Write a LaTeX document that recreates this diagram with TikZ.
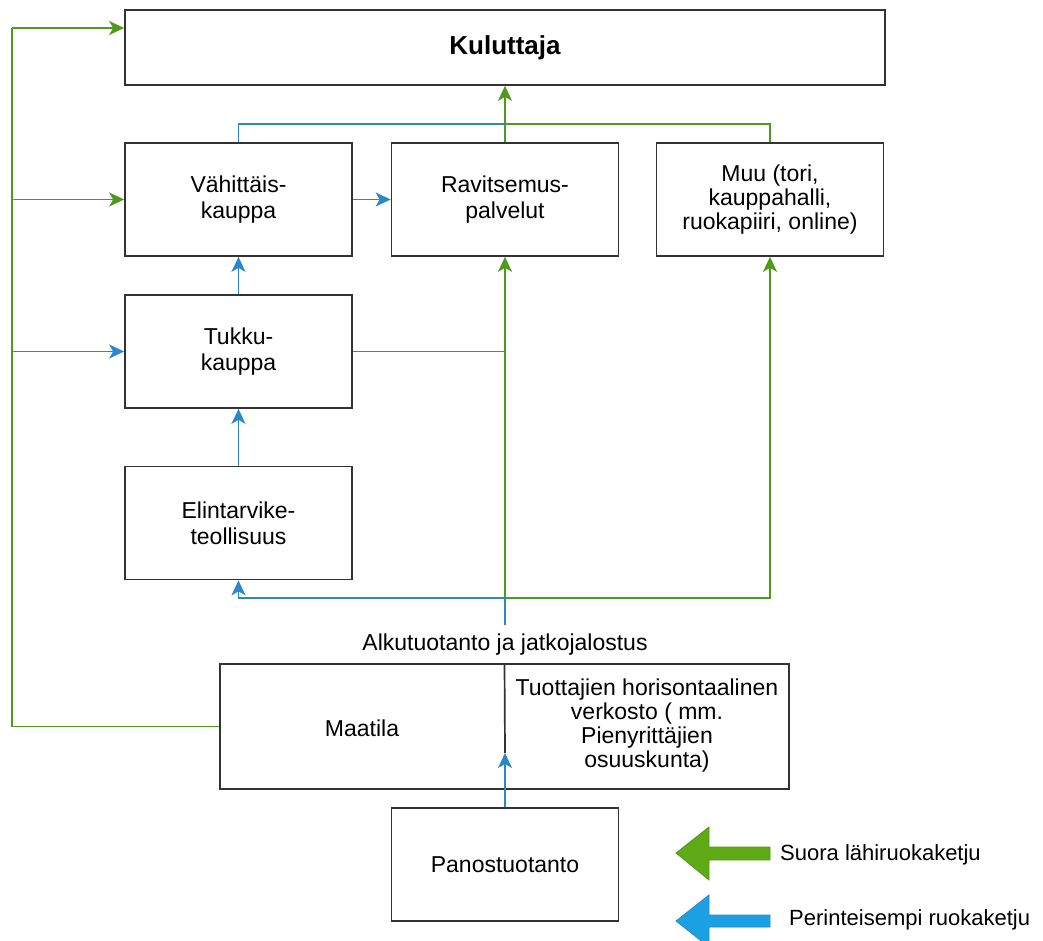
\documentclass[tikz,border=0pt]{standalone}
\usepackage{fontspec}
\setmainfont{Liberation Sans}
\usetikzlibrary{arrows.meta, positioning}
\usepackage{xcolor}
\definecolor{chaingreen}{HTML}{4F9A1C}
\definecolor{chainblue}{HTML}{2B87C9}
\definecolor{legendgreen}{HTML}{60A917}
\definecolor{legendblue}{HTML}{1BA1E2}

\begin{document}
\begin{tikzpicture}[x=1pt,y=-1pt,>={Stealth[length=15pt,width=14pt,inset=4pt]}]
    \tikzstyle{box}=[rectangle, draw=black!80, line width=1.7pt, minimum width=227pt, minimum height=113pt, align=center, inner sep=2pt, font=\fontsize{23}{24}\selectfont]
    \tikzstyle{plain}=[align=center, inner sep=2pt, font=\fontsize{23}{24}\selectfont]
    \tikzstyle{green line}=[draw=chaingreen, line width=1.7pt]
    \tikzstyle{blue line}=[draw=chainblue, line width=1.7pt]

    \useasboundingbox (0,0) rectangle (1043,941);

    % Draw the chain boxes
    \node[box, minimum width=760pt, minimum height=75pt, font=\fontsize{26}{26}\selectfont\bfseries] (K) at (505,47.5) {Kuluttaja};
    \node[box] (V) at (238.5,199.5) {Vähittäis-\\[2pt]kauppa};
    \node[box] (R) at (505,199.5) {Ravitsemus-\\[2pt]palvelut};
    \node[box] (M) at (770,199.5) {Muu (tori,\\kauppahalli,\\ruokapiiri, online)};
    \node[box] (T) at (238.5,351.5) {Tukku-\\[2pt]kauppa};
    \node[box] (E) at (238.5,523) {Elintarvike-\\[2pt]teollisuus};

    % Draw the primary production
    \node[plain] (AL) at (505,645) {Alkutuotanto ja jatkojalostus};
    \node[box, minimum width=569pt, minimum height=125pt] (A) at (504.5,726.5) {};
    \node[plain] (A-1) at (362,728) {Maatila};
    \node[plain] (A-2) at (647,726) {Tuottajien horisontaalinen\\verkosto ( mm.\\Pienyrittäjien\\osuuskunta)};
    \node[box] (P) at (505,864.5) {Panostuotanto};

    \coordinate (D) at (505,753);
    \coordinate (rail top) at (12,28);
    \coordinate (top join) at (505,124);
    \coordinate (bottom join) at (505,598);
    \coordinate (AL-in) at (505,625);

    \draw[draw=black!80, line width=1.7pt] (A.north) -- (D);

    % green chain
    \draw[green line] (A.west) -| (rail top);
    \draw[green line, ->] (rail top) -- (K.west |- rail top);
    \draw[green line, ->] (V.west -| rail top) -- (V.west);
    \draw[green line] (M.north) |- (top join);
    \draw[green line, ->] (R.north) -- (K.south);
    \draw[green line, ->] (bottom join) -- (R.south);
    \draw[green line, ->] (bottom join) -| (M.south);

    % blue chain
    \draw[blue line, ->] (T.west -| rail top) -- (T.west);
    \draw[blue line] (V.north) |- (top join);
    \draw[blue line, ->] (V.east) -- (R.west);
    \draw[blue line, ->] (T.north) -- (V.south);
    \draw[blue line, ->] (E.north) -- (T.south);
    \draw[blue line] (T.east) -- (T.east -| R.south);
    \draw[blue line, ->] (AL-in) -- (bottom join) -| (E.south);
    \draw[blue line, ->] (P.north) -- (D);

    % legend
    \draw[fill=legendgreen, draw=chaingreen, line width=0.8pt] (676,853) -- (709,827) -- (709,847) -- (770,847) -- (770,860) -- (709,860) -- (709,880) -- cycle;
    \draw[fill=legendblue, draw=chainblue, line width=0.8pt] (676,921) -- (709,895) -- (709,915) -- (770,915) -- (770,927) -- (709,927) -- (709,947) -- cycle;
    \node[plain, anchor=west, font=\fontsize{22}{24}\selectfont] (L-1) at (778,855) {Suora lähiruokaketju};
    \node[plain, anchor=west, font=\fontsize{22}{24}\selectfont] (L-2) at (787,920) {Perinteisempi ruokaketju};
\end{tikzpicture}
\end{document}
